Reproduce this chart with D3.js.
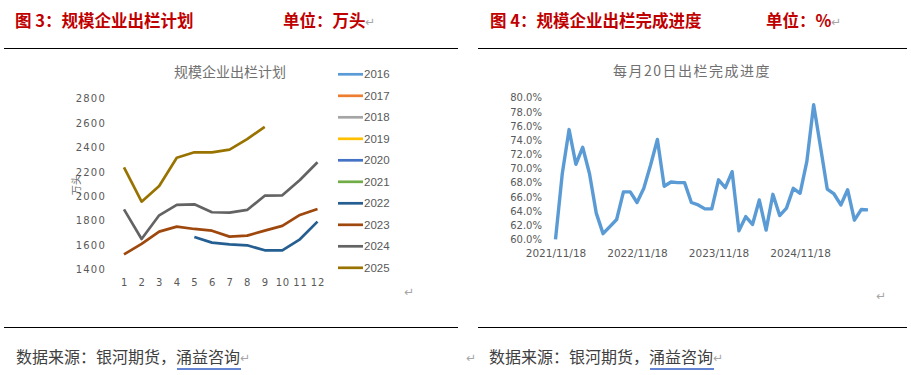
<!DOCTYPE html>
<html>
<head>
<meta charset="utf-8">
<script src="https://cdn.jsdelivr.net/npm/d3@7"></script>
<style>
  body { margin: 0; background: #fff; }
  svg { display: block; }
  .hdr { font-family: "Noto Sans CJK SC", sans-serif; font-size: 16.5px; font-weight: bold; fill: #C00000; }
  .ret { font-family: "DejaVu Sans", sans-serif; font-size: 12px; fill: #A6A6A6; }
  .foot { font-family: "Noto Sans CJK SC", sans-serif; font-size: 16px; fill: #404040; }
  .ctitle { font-family: "Noto Sans CJK SC", sans-serif; font-size: 14px; fill: #707070; }
  .tick { font-family: "DejaVu Sans", sans-serif; font-size: 10px; fill: #595959; }
  .leg { font-family: "Liberation Sans", sans-serif; font-size: 11.5px; fill: #595959; }
</style>
</head>
<body>
<svg id="chart" width="911" height="375"></svg>
<script>
// left chart: planned slaughter by month, 10k head
var months = [1, 2, 3, 4, 5, 6, 7, 8, 9, 10, 11, 12];
var years = ["2016", "2017", "2018", "2019", "2020", "2021", "2022", "2023", "2024", "2025"];
var yearColors = ["#5B9BD5", "#ED7D31", "#A5A5A5", "#FFC000", "#4472C4", "#70AD47", "#255E91", "#9E480E", "#636363", "#997300"];
var v2022 = [null, null, null, null, 1665, 1619, 1605, 1597, 1556, 1556, 1646, 1791];
var v2023 = [1523, 1608, 1709, 1750, 1731, 1717, 1668, 1676, 1717, 1756, 1846, 1895];
var v2024 = [1892, 1649, 1843, 1928, 1933, 1868, 1865, 1887, 2004, 2007, 2133, 2278];
var v2025 = [2237, 1955, 2084, 2316, 2360, 2360, 2382, 2469, 2568, null, null, null];
var leftTicks = [1400, 1600, 1800, 2000, 2200, 2400, 2600, 2800];

// right chart: completion progress on the 20th of each month (%)
var progStart = "2021/11/18";
var progress = [60.0, 69.3, 75.5, 70.6, 73.0, 69.3, 63.7, 60.8, 61.8, 62.8, 66.7, 66.7,
  65.2, 67.2, 70.5, 74.1, 67.5, 68.1, 68.0, 68.0, 65.2, 64.85, 64.3, 64.3,
  68.4, 67.3, 69.55, 61.2, 63.2, 62.1, 65.55, 61.3, 66.35, 63.35, 64.4, 67.2,
  66.5, 71.0, 79.0, 73.1, 67.1, 66.4, 64.85, 67.0, 62.7, 64.2, 64.15];
var progLabels = ["2021/11/18", "2022/11/18", "2023/11/18", "2024/11/18"];
var rightTicks = [60, 62, 64, 66, 68, 70, 72, 74, 76, 78, 80];

var seriesByYear = { "2022": v2022, "2023": v2023, "2024": v2024, "2025": v2025 };

// category dates for the right chart, one per month
var progDates = [];
(function () {
  var p = progStart.split("/").map(Number);
  for (var i = 0; i < progress.length; i++) {
    var m = p[1] - 1 + i;
    var y = p[0] + Math.floor(m / 12);
    progDates.push(y + "/" + (m % 12 + 1) + "/" + p[2]);
  }
})();

var svg = d3.select("#chart");
svg.append("rect").attr("width", 911).attr("height", 375).attr("fill", "#fff");

// ---- headers and footers ----
svg.append("text").attr("class", "hdr").attr("x", 15).attr("y", 27).text("图 3：规模企业出栏计划");
svg.append("text").attr("class", "hdr").attr("x", 283).attr("y", 27).text("单位：万头");
svg.append("text").attr("class", "ret").attr("x", 365).attr("y", 26).text("↵");
svg.append("text").attr("class", "hdr").attr("x", 490).attr("y", 27).text("图 4：规模企业出栏完成进度");
svg.append("text").attr("class", "hdr").attr("x", 766).attr("y", 27).text("单位：%");
svg.append("text").attr("class", "ret").attr("x", 831).attr("y", 26).text("↵");

[[4, 458], [478, 907]].forEach(function (r) {
  svg.append("line").attr("x1", r[0]).attr("x2", r[1]).attr("y1", 48.5).attr("y2", 48.5)
    .attr("stroke", "#000").attr("stroke-width", 1.2);
  svg.append("line").attr("x1", r[0]).attr("x2", r[1]).attr("y1", 327.5).attr("y2", 327.5)
    .attr("stroke", "#000").attr("stroke-width", 1.2);
});

svg.append("text").attr("class", "foot").attr("x", 16).attr("y", 363).text("数据来源：银河期货，涌益咨询");
svg.append("text").attr("class", "ret").attr("x", 240).attr("y", 362).text("↵");
svg.append("line").attr("x1", 177).attr("x2", 241).attr("y1", 369).attr("y2", 369)
  .attr("stroke", "#2F5CC4").attr("stroke-width", 1.5);
svg.append("text").attr("class", "ret").attr("x", 466).attr("y", 362).text("↵");
svg.append("text").attr("class", "foot").attr("x", 489).attr("y", 363).text("数据来源：银河期货，涌益咨询");
svg.append("text").attr("class", "ret").attr("x", 713).attr("y", 362).text("↵");
svg.append("line").attr("x1", 650).attr("x2", 714).attr("y1", 369).attr("y2", 369)
  .attr("stroke", "#2F5CC4").attr("stroke-width", 1.5);

svg.append("text").attr("class", "ret").attr("x", 404).attr("y", 296).text("↵");
svg.append("text").attr("class", "ret").attr("x", 876).attr("y", 300).text("↵");

// ---- left chart ----
var xL = d3.scalePoint().domain(months).range([124, 317.5]);
var yL = d3.scaleLinear().domain([1400, 2800]).range([269.3, 98.7]);

svg.append("text").attr("class", "ctitle").attr("x", 230).attr("y", 77)
  .attr("text-anchor", "middle").text("规模企业出栏计划");
svg.append("text").attr("class", "ctitle").style("font-size", "10.5px")
  .attr("transform", "translate(80,185) rotate(-90)")
  .attr("text-anchor", "middle").text("万头");

var axL = svg.append("g").attr("transform", "translate(106,0)")
  .call(d3.axisLeft(yL).tickValues(leftTicks).tickSize(0).tickPadding(0).tickFormat(d3.format("d")));
axL.select(".domain").remove();
axL.selectAll("text").attr("class", "tick").attr("fill", null).style("letter-spacing", "1.2px");

var axLB = svg.append("g").attr("transform", "translate(0,279)")
  .call(d3.axisBottom(xL).tickSize(0).tickPadding(0));
axLB.select(".domain").remove();
axLB.selectAll("text").attr("class", "tick").attr("fill", null).style("letter-spacing", "0.8px");

var lineL = d3.line()
  .defined(function (d) { return d != null; })
  .x(function (d, i) { return xL(months[i]); })
  .y(function (d) { return yL(d); });

years.forEach(function (yr, k) {
  var vals = seriesByYear[yr];
  if (!vals) return;
  svg.append("path").datum(vals)
    .attr("d", lineL)
    .attr("fill", "none")
    .attr("stroke", yearColors[k])
    .attr("stroke-width", 2.7)
    .attr("stroke-linejoin", "round");
});

var leg = svg.append("g");
years.forEach(function (yr, k) {
  var yy = 74.3 + k * 21.5;
  leg.append("line").attr("x1", 338).attr("x2", 363).attr("y1", yy).attr("y2", yy)
    .attr("stroke", yearColors[k]).attr("stroke-width", 2.7);
  leg.append("text").attr("class", "leg").attr("x", 364).attr("y", yy + 4).text(yr);
});

// ---- right chart ----
var xR = d3.scalePoint().domain(progDates).range([555.5, 868]);
var yR = d3.scaleLinear().domain([60, 80]).range([239.3, 97.7]);

svg.append("text").attr("class", "ctitle").attr("x", 692).attr("y", 76)
  .attr("text-anchor", "middle").style("letter-spacing", "1.5px").text("每月20日出栏完成进度");

var axR = svg.append("g").attr("transform", "translate(542,0)")
  .call(d3.axisLeft(yR).tickValues(rightTicks).tickSize(0).tickPadding(0)
    .tickFormat(function (d) { return d.toFixed(1) + "%"; }));
axR.select(".domain").remove();
axR.selectAll("text").attr("class", "tick").attr("fill", null);

var axRB = svg.append("g").attr("transform", "translate(0,250)")
  .call(d3.axisBottom(xR).tickValues(progLabels).tickSize(0).tickPadding(0));
axRB.select(".domain").remove();
axRB.selectAll("text").attr("class", "tick").attr("fill", null).style("font-size", "10.5px");

svg.append("path").datum(progress)
  .attr("d", d3.line()
    .x(function (d, i) { return xR(progDates[i]); })
    .y(function (d) { return yR(d); }))
  .attr("fill", "none")
  .attr("stroke", "#5B9BD5")
  .attr("stroke-width", 3.4)
  .attr("stroke-linejoin", "round");
</script>
</body>
</html>
